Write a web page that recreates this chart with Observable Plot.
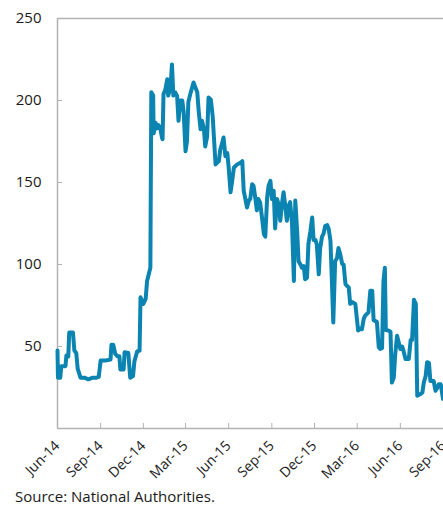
<!DOCTYPE html>
<html>
<head>
<meta charset="utf-8">
<script src="https://cdn.jsdelivr.net/npm/d3@7"></script>
<script src="https://cdn.jsdelivr.net/npm/@observablehq/plot@0.6"></script>
<style>
  html, body { margin: 0; padding: 0; background: #fff; }
  #wrap { position: relative; width: 443px; height: 506px; overflow: hidden; }
  #caption { position: absolute; left: 15px; top: 488px; font-family: "Open Sans", sans-serif; font-size: 15px; line-height: 16px; color: #1a1a1a; white-space: nowrap; }
</style>
</head>
<body>
<div id="wrap"><div id="chart"></div><div id="caption">Source: National Authorities.</div></div>
<script>
const dates = [
  "2014-06-01","2014-06-02","2014-06-07","2014-06-09","2014-06-18","2014-06-20","2014-06-24","2014-06-26",
  "2014-07-04","2014-07-07","2014-07-11","2014-07-14","2014-07-20","2014-07-28","2014-08-06","2014-08-15",
  "2014-08-23","2014-08-28","2014-09-01","2014-09-11","2014-09-22","2014-09-24","2014-09-28","2014-10-02",
  "2014-10-07","2014-10-11","2014-10-13","2014-10-20","2014-10-22","2014-10-30","2014-11-03","2014-11-09",
  "2014-11-12","2014-11-18","2014-11-23","2014-11-25","2014-12-01","2014-12-06","2014-12-09","2014-12-16",
  "2014-12-18","2014-12-22","2014-12-23","2014-12-27","2014-12-30","2015-01-02","2015-01-06","2015-01-10",
  "2015-01-11","2015-01-13","2015-01-17","2015-01-21","2015-01-23","2015-01-28","2015-01-31","2015-02-03",
  "2015-02-07","2015-02-11","2015-02-14","2015-02-18","2015-02-22","2015-02-25","2015-03-01","2015-03-04",
  "2015-03-07","2015-03-11","2015-03-18","2015-03-22","2015-03-26","2015-03-29","2015-04-02","2015-04-05",
  "2015-04-09","2015-04-12","2015-04-16","2015-04-19","2015-04-24","2015-04-28","2015-04-30","2015-05-04",
  "2015-05-11","2015-05-14","2015-05-18","2015-05-21","2015-05-25","2015-05-29","2015-06-01","2015-06-05",
  "2015-06-08","2015-06-12","2015-06-19","2015-06-26","2015-06-30","2015-07-03","2015-07-10","2015-07-14",
  "2015-07-17","2015-07-21","2015-07-24","2015-07-28","2015-07-31","2015-08-03","2015-08-07","2015-08-11",
  "2015-08-15","2015-08-18","2015-08-22","2015-08-25","2015-08-29","2015-09-01","2015-09-05","2015-09-08",
  "2015-09-12","2015-09-16","2015-09-19","2015-09-23","2015-09-26","2015-09-30","2015-10-03","2015-10-07",
  "2015-10-10","2015-10-14","2015-10-18","2015-10-21","2015-10-25","2015-10-28","2015-11-01","2015-11-04",
  "2015-11-08","2015-11-11","2015-11-15","2015-11-18","2015-11-22","2015-11-26","2015-11-29","2015-12-03",
  "2015-12-06","2015-12-10","2015-12-13","2015-12-17","2015-12-20","2015-12-24","2015-12-28","2015-12-31",
  "2016-01-04","2016-01-07","2016-01-10","2016-01-14","2016-01-18","2016-01-21","2016-01-25","2016-01-29",
  "2016-02-01","2016-02-05","2016-02-08","2016-02-12","2016-02-15","2016-02-20","2016-02-26","2016-03-03",
  "2016-03-08","2016-03-11","2016-03-15","2016-03-18","2016-03-25","2016-03-29","2016-04-02","2016-04-05",
  "2016-04-12","2016-04-16","2016-04-19","2016-04-23","2016-04-26","2016-04-29","2016-05-01","2016-05-07",
  "2016-05-11","2016-05-14","2016-05-18","2016-05-21","2016-05-25","2016-05-28","2016-06-01","2016-06-05",
  "2016-06-08","2016-06-12","2016-06-19","2016-06-23","2016-06-26","2016-06-30","2016-07-04","2016-07-07",
  "2016-07-14","2016-07-18","2016-07-21","2016-07-25","2016-07-28","2016-08-01","2016-08-04","2016-08-11",
  "2016-08-15","2016-08-19","2016-08-22","2016-08-26","2016-08-31"
];
const values = [
  47.5,31,31,38,38,44.5,44,58.5,
  58.5,47.5,46,36.5,31,31,30,31,
  31,31.5,41.5,41.5,42,51,51,45.6,
  44,44,36,36,46.5,46,31,32,
  41,47,47.5,80,76,79,90,98,
  205,203,180,186.5,183,185,183.5,177,
  176.4,203.8,206.8,213,203,208,222,203,
  205,202.8,187.6,200,200,193,169,175,
  199,203.8,211,208,205,193.7,182.5,187.6,
  183,172,178,201.8,200.5,190,180,161,
  163,170,174,177.4,166,168,159,144,
  150,159,161,162,163,145,134.8,139,
  140,149,148,140,133,140,137.8,128.7,
  118.6,117,141,148,151,140,145,122,
  140,136,126.7,138,144,135,126.7,136,
  138,125,90,139,120,102,100,98,
  99,91,92,112.6,120,128.7,115,115,
  112,94,110,117,118.6,123.6,124,122,
  114.5,90,64.7,102,104,110,106,100.4,
  100,88,87,86,76,77,76,59.7,
  61,60.5,67,68.8,70.8,84,84,66,
  65,49.5,48.5,49,90,98,60,59.7,
  59,28,31,45,56.6,53,48.5,50,
  47,42.4,42.4,54,54,78.5,76,20,
  21,22,28,32,40.4,40,29,29,
  23,25,27,27,18
];
const xTickDates = ["2014-06-01","2014-09-01","2014-12-01","2015-03-01","2015-06-01","2015-09-01","2015-12-01","2016-03-01","2016-06-01","2016-09-01"];
const yTicks = [50, 100, 150, 200, 250];

const data = dates.map((d, i) => ({date: new Date(d), value: values[i]}));
const xt = xTickDates.map(d => new Date(d));
const fmt = d3.utcFormat("%b-%y");
const grey = "#b3b3b3";

const chart = Plot.plot({
  width: 443,
  height: 484,
  marginTop: 18,
  marginLeft: 57,
  marginRight: 0,
  marginBottom: 56,
  x: {type: "utc", domain: [xt[0], xt[xt.length - 1]], axis: null},
  y: {domain: [0, 250], axis: null},
  style: {fontFamily: "'Open Sans', sans-serif", background: "white", overflow: "visible"},
  marks: [
    Plot.ruleY([0, 250], {y: d => d, stroke: grey, strokeWidth: 1.5}),
    Plot.ruleX([xt[0]], {x: d => d, stroke: grey, strokeWidth: 1.5}),
    Plot.tickX(xt, {x: d => d, stroke: grey, strokeWidth: 1, insetTop: 405}),
    Plot.tickY(yTicks.slice(0, -1), {y: d => d, stroke: grey, strokeWidth: 1, insetRight: 381}),
    Plot.line(data, {x: "date", y: "value", stroke: "#0b84b2", strokeWidth: 4, strokeLinejoin: "round", strokeLinecap: "round"}),
    Plot.text(yTicks, {y: d => d, text: d => String(d), frameAnchor: "left", textAnchor: "end", dx: -16, fontSize: 15, fill: "#1a1a1a"}),
    Plot.text(xt, {x: d => d, text: d => fmt(d), frameAnchor: "bottom", rotate: -45, textAnchor: "end", dy: 18, dx: 3, fontSize: 14, fill: "#1a1a1a"})
  ]
});
document.getElementById("chart").appendChild(chart);
</script>
</body>
</html>
